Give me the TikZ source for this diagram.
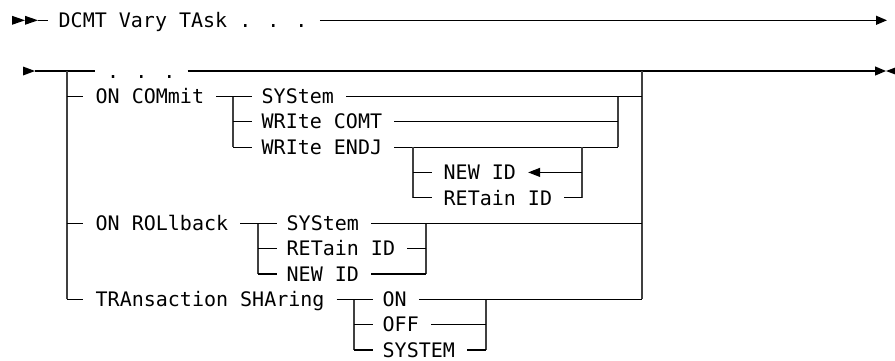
\documentclass[tikz,border=0pt]{standalone}
\usepackage{fontspec}
\newfontfamily\rrfont{DejaVu Sans Mono}
\usetikzlibrary{arrows.meta}
\begin{document}
\begin{tikzpicture}[x=1pt,y=-1pt,
  lbl/.style={font=\rrfont\fontsize{20}{20}\selectfont, inner sep=0pt, text height=14.4pt, text depth=0pt, anchor=west},
  hl/.style={line width=1.2pt, black},
  vl/.style={line width=2pt, black!75},
  endarrow/.style={-{Triangle[length=11pt,width=9pt]}},
  backarrow/.style={-{Triangle[length=12pt,width=9pt]}},
  tri/.style={fill=black}
]
\useasboundingbox (0,0) rectangle (895,360);

% ---------- row 1 ----------
\coordinate (a1) at (12,20.3);
\coordinate (a2) at (25,20.3);
\coordinate (s0) at (38,20.3);
\coordinate (s0e) at (48,20.3);
\coordinate (e0) at (887,20.3);
\fill[tri] (12,15.8) -- (a2) -- (12,24.8) -- cycle;
\fill[tri] (25,15.8) -- (s0) -- (25,24.8) -- cycle;
\node[lbl] (t0) at (58.5,20.3) {DCMT Vary TAsk . . .};
\draw[hl] (s0) -- (s0e);
\draw[hl,endarrow] ([xshift=12pt]t0.east) -- (e0);

% ---------- row 2 ----------
\coordinate (s1) at (35,71);
\coordinate (e1) at (886,71);
\coordinate (L0) at (66.7,71);
\coordinate (R0) at (642,71);
\fill[tri] (23,66.5) -- (s1) -- (23,75.5) -- cycle;
\node[lbl] (dots) at (107,71) {. . .};
\draw[hl] (s1) -- ([xshift=-12pt]dots.west);
\draw[hl,endarrow] ([xshift=12pt]dots.east) -- (e1);
\fill[tri] (e1) -- (898,66.5) -- (898,75.5) -- cycle;

% main bars
\coordinate (Lb) at (66.7,299.2);
\coordinate (Rb) at (642,299.2);
\draw[vl] (L0) -- (Lb);
\draw[vl] (R0) -- (Rb);

% ---------- ON COMmit ----------
\node[lbl] (oncom) at (95.5,96.4) {ON COMmit};
\draw[hl] (66.7,96.4) -- ([xshift=-13pt]oncom.west);
\coordinate (cb1) at (233,96.4);
\coordinate (cb3) at (233,147.1);
\draw[vl] (cb1) -- (cb3);
\draw[hl] ([xshift=12pt]oncom.east) -- (252,96.4);
\node[lbl] (csys) at (261.5,96.4) {SYStem};
\node[lbl] (ccomt) at (261.5,121.7) {WRIte COMT};
\node[lbl] (cendj) at (261.5,147.1) {WRIte ENDJ};
\draw[hl] (233,121.7) -- ([xshift=-9.5pt]ccomt.west);
\draw[hl] (cb3) -- ([xshift=-9.5pt]cendj.west);
\coordinate (cr1) at (618,96.4);
\coordinate (cr3) at (618,147.1);
\draw[vl] (cr1) -- (cr3);
\draw[hl] ([xshift=12pt]csys.east) -- (642,96.4);
\draw[hl] ([xshift=12pt]ccomt.east) -- (618,121.7);
\draw[hl] ([xshift=12pt]cendj.east) -- (cr3);

% sub-branch NEW ID / RETain ID
\coordinate (sb1) at (413,147.1);
\coordinate (sb2) at (413,197.8);
\coordinate (sr1) at (582,147.1);
\coordinate (sr2) at (582,197.8);
\draw[vl] (sb1) -- (sb2);
\draw[vl] (sr1) -- (sr2);
\node[lbl] (cnew) at (443.5,172.4) {NEW ID};
\node[lbl] (cret) at (443.5,197.8) {RETain ID};
\draw[hl] (413,172.4) -- ([xshift=-11.5pt]cnew.west);
\draw[hl] (sb2) -- ([xshift=-11.5pt]cret.west);
\draw[hl,backarrow] (582,172.4) -- ([xshift=12pt]cnew.east);
\draw[hl] ([xshift=12pt]cret.east) -- (sr2);

% ---------- ON ROLlback ----------
\node[lbl] (onrol) at (95.5,223.2) {ON ROLlback};
\draw[hl] (66.7,223.2) -- ([xshift=-13pt]onrol.west);
\coordinate (rb1) at (258,223.2);
\coordinate (rb3) at (258,273.9);
\draw[vl] (rb1) -- (rb3);
\draw[hl] ([xshift=12pt]onrol.east) -- (277,223.2);
\node[lbl] (rsys) at (286.5,223.2) {SYStem};
\node[lbl] (rret) at (286.5,248.5) {RETain ID};
\node[lbl] (rnew) at (286.5,273.9) {NEW ID};
\draw[hl] (258,248.5) -- ([xshift=-9.5pt]rret.west);
\draw[hl] (rb3) -- ([xshift=-9.5pt]rnew.west);
\coordinate (rr1) at (426,223.2);
\coordinate (rr3) at (426,273.9);
\draw[vl] (rr1) -- (rr3);
\draw[hl] ([xshift=12pt]rsys.east) -- (642,223.2);
\draw[hl] ([xshift=12pt]rret.east) -- (426,248.5);
\draw[hl] ([xshift=12pt]rnew.east) -- (rr3);

% ---------- TRAnsaction SHAring ----------
\node[lbl] (trans) at (95.5,299.2) {TRAnsaction SHAring};
\draw[hl] (Lb) -- ([xshift=-13pt]trans.west);
\coordinate (tb1) at (354,299.2);
\coordinate (tb3) at (354,350);
\draw[vl] (tb1) -- (tb3);
\draw[hl] ([xshift=12pt]trans.east) -- (373,299.2);
\node[lbl] (ton) at (382.5,299.2) {ON};
\node[lbl] (toff) at (382.5,324.6) {OFF};
\node[lbl] (tsys) at (382.5,350) {SYSTEM};
\draw[hl] (354,324.6) -- ([xshift=-9.5pt]toff.west);
\draw[hl] (tb3) -- ([xshift=-9.5pt]tsys.west);
\coordinate (tr1) at (486,299.2);
\coordinate (tr3) at (486,350);
\draw[vl] (tr1) -- (tr3);
\draw[hl] ([xshift=12pt]ton.east) -- (Rb);
\draw[hl] ([xshift=12pt]toff.east) -- (486,324.6);
\draw[hl] ([xshift=12pt]tsys.east) -- (tr3);
\end{tikzpicture}
\end{document}
